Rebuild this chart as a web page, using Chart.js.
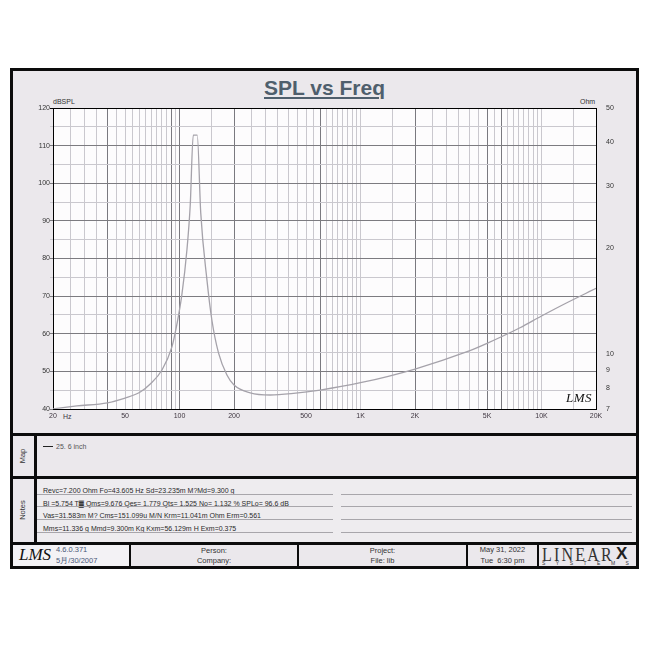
<!DOCTYPE html>
<html>
<head>
<meta charset="utf-8">
<script src="https://cdn.jsdelivr.net/npm/chart.js@4.4.0/dist/chart.umd.min.js"></script>
<style>
  html, body { margin: 0; padding: 0; background: #fff; }
  body { width: 653px; height: 648px; position: relative; overflow: hidden;
         font-family: "Liberation Sans", Arial, sans-serif; }
  .abs { position: absolute; white-space: nowrap; }
  .bar { position: absolute; background: #0c0c0c; }
  #frame { left: 10px; top: 68px; width: 629px; height: 501px; box-sizing: border-box;
           border: 3px solid #0c0c0c; background: #ebe8ec; }
  #title { left: 13px; width: 623px; top: 76px; text-align: center; font-size: 21px;
           font-weight: bold; color: #4f5f6d; text-decoration: underline; text-underline-offset: 2px; }
  .small { font-size: 7px; color: #333; line-height: 8px; }
  .note { font-size: 7px; color: #2a2a2a; line-height: 8px; }
  .rule { position: absolute; height: 0; border-bottom: 1px solid #a8a6ab; }
  .side { font-size: 7.5px; color: #333; width: 40px; text-align: center; line-height: 10px;
          transform: rotate(-90deg); }
  .foot { font-size: 7.5px; color: #333; line-height: 9px; text-align: center; }
  .ver { font-size: 7.5px; color: #4a5878; line-height: 9px; }
  .lms { font-family: "Liberation Serif", serif; font-style: italic; color: #111; }
</style>
</head>
<body>
<div id="frame" class="abs"></div>
<div id="title" class="abs">SPL vs Freq</div>

<div class="abs small" style="left:53px; top:98px;">dBSPL</div>
<div class="abs small" style="left:580px; top:98px;">Ohm</div>
<div class="abs small" style="left:63px; top:413px; color:#3f3640;">Hz</div>

<div class="abs" style="left:13px; top:71px; width:623px; height:362px;">
  <canvas id="chartSpl"></canvas>
</div>
<div class="abs lms" style="left:566px; top:390px; font-size:13px; letter-spacing:0.5px;">LMS</div>

<!-- section dividers -->
<div class="bar" style="left:10px; top:433px; width:629px; height:3px;"></div>
<div class="bar" style="left:10px; top:476px; width:629px; height:3px;"></div>
<div class="bar" style="left:10px; top:542px; width:629px; height:3px;"></div>
<div class="bar" style="left:34px; top:436px; width:3px; height:106px;"></div>

<!-- Map -->
<div class="abs side" style="left:3px; top:451px;">Map</div>
<div class="abs" style="left:43px; top:446px; width:10px; height:1px; background:#222;"></div>
<div class="abs small" style="left:56px; top:443px; color:#555;">25. 6 inch</div>

<!-- Notes -->
<div class="abs" style="left:37px; top:479px; width:599px; height:63px; background:#eeecef;"></div>
<div class="abs side" style="left:3px; top:505px;">Notes</div>
<div id="notes"></div>

<!-- footer -->
<div class="abs" style="left:13px; top:545px; width:116px; height:21px; background:#f3f2f5;"></div>
<div class="bar" style="left:129px; top:545px; width:2px; height:21px;"></div>
<div class="bar" style="left:297px; top:545px; width:2px; height:21px;"></div>
<div class="bar" style="left:466px; top:545px; width:2px; height:21px;"></div>
<div class="bar" style="left:537px; top:545px; width:2px; height:21px;"></div>

<div class="abs lms" style="left:19px; top:545px; font-size:17px; line-height:19px;">LMS</div>
<div class="abs ver" style="left:56px; top:545px;">4.6.0.371</div>
<div class="abs ver" style="left:56px; top:556px;">5月/30/2007</div>

<div class="abs foot" style="left:131px; width:166px; top:546px;">Person:</div>
<div class="abs foot" style="left:131px; width:166px; top:556px;">Company:</div>
<div class="abs foot" style="left:299px; width:167px; top:546px;">Project:</div>
<div class="abs foot" style="left:299px; width:167px; top:556px;">File: lib</div>
<div class="abs foot" style="left:468px; width:69px; top:545px;">May 31, 2022</div>
<div class="abs foot" style="left:468px; width:69px; top:556px;">Tue&nbsp; 6:30 pm</div>

<div class="abs" style="left:542px; top:545px; font-family:'Liberation Serif', serif; font-size:16px; letter-spacing:2.2px; color:#333; line-height:16px; transform:scaleY(1.2); transform-origin:top left;">LINEAR</div>
<div class="abs" style="left:616px; top:545px; font-size:17px; font-weight:bold; color:#222; line-height:17px;">X</div>
<div class="abs" style="left:542px; top:561px; font-size:5px; letter-spacing:10.5px; color:#333; line-height:5px;">SYSTEMS</div>

<script>
// impedance curve (right axis, Ohm)
var freqHz = [20, 27.1, 40, 50, 60.7, 68.9, 80, 90.8, 96.8, 103.1, 109.9, 114.6, 119.1, 125.3,
  131, 141.7, 151, 164.2, 182.8, 200, 245.8, 317, 426, 598, 1000, 2000, 3848, 5000, 7604, 10000, 13720, 20000];
var impedanceOhm = [7.01, 7.14, 7.29, 7.52, 7.82, 8.24, 9.03, 10.5, 12.2, 14.8, 19.8, 26.5, 41.9, 41.9,
  25.2, 16.3, 12.5, 10.1, 8.74, 8.19, 7.78, 7.67, 7.75, 7.92, 8.31, 9.09, 10.16, 10.75, 11.9, 12.85, 13.99, 15.39];

var xTickValues = [20, 50, 100, 200, 500, 1000, 2000, 5000, 10000, 20000];
var xTickLabels = ["20", "50", "100", "200", "500", "1K", "2K", "5K", "10K", "20K"];
var ohmTicks = [7, 8, 9, 10, 20, 30, 40, 50];
var darkFreqs = [40, 90, 100, 200, 600, 2000, 5000, 6000];

var notesLines = [
  "Revc=7.200 Ohm  Fo=43.605 Hz  Sd=23.235m M?Md=9.300 g",
  "Bl =5.754 T\u2593  Qms=9.676  Qes= 1.779  Qts= 1.525  No= 1.132 %  SPLo= 96.6 dB",
  "Vas=31.583m M? Cms=151.099u M/N  Krm=11.041m Ohm  Erm=0.561",
  "Mms=11.336 g  Mmd=9.300m Kg  Kxm=56.129m H  Exm=0.375",
];

// grid frequencies: steps of 5 up to 100 in each span, then 150, 200
var gridFreqs = [];
[20, 200, 2000].forEach((b) => {
  for (let k = 0; k <= 16; k++) gridFreqs.push(b * (1 + k * 0.25));
  gridFreqs.push(b * 7.5);
});
gridFreqs.push(20000);

var notesHtml = "";
notesLines.forEach((txt, i) => {
  let top = 487 + i * 12.7;
  notesHtml += '<div class="abs note" style="left:43px; top:' + top + 'px;">' + txt + "</div>";
  notesHtml += '<div class="rule" style="left:37px; width:296px; top:' + (top + 6.5) + 'px;"></div>';
  notesHtml += '<div class="rule" style="left:341px; width:291px; top:' + (top + 6.5) + 'px;"></div>';
});
document.getElementById("notes").innerHTML = notesHtml;

const plotBg = {
  id: "plotBg",
  beforeDraw(chart) {
    const { ctx, chartArea: a } = chart;
    ctx.save();
    ctx.fillStyle = "#fdfcfd";
    ctx.fillRect(a.left, a.top, a.right - a.left, a.bottom - a.top);
    ctx.restore();
  },
};

const tickFont = { family: "Liberation Sans", size: 7 };

new Chart(document.getElementById("chartSpl").getContext("2d"), {
  type: "line",
  data: {
    datasets: [
      {
        label: "25. 6 inch",
        data: freqHz.map((f, i) => ({ x: f, y: impedanceOhm[i] })),
        yAxisID: "y2",
        borderColor: "#a5a2aa",
        borderWidth: 1.3,
        pointRadius: 0,
        cubicInterpolationMode: "monotone",
        fill: false,
      },
    ],
  },
  options: {
    responsive: true,
    maintainAspectRatio: false,
    animation: false,
    layout: { padding: { top: 37, left: 0, right: 0, bottom: 0 } },
    plugins: { legend: { display: false }, tooltip: { enabled: false } },
    scales: {
      x: {
        type: "logarithmic",
        min: 20,
        max: 20000,
        afterBuildTicks: (s) => { s.ticks = gridFreqs.map((v) => ({ value: v })); },
        afterFit: (s) => { s.height = 24; },
        ticks: {
          autoSkip: false,
          maxRotation: 0,
          minRotation: 0,
          padding: 3,
          font: tickFont,
          color: "#3f3640",
          callback: (v) => {
            let i = xTickValues.indexOf(Math.round(v));
            return i >= 0 ? xTickLabels[i] : "";
          },
        },
        grid: {
          drawTicks: false,
          color: (c) => (c.tick && darkFreqs.includes(Math.round(c.tick.value)) ? "#7a797f" : "#cac8ce"),
        },
        border: { color: "#000", width: 1 },
      },
      y: {
        position: "left",
        min: 40,
        max: 120,
        afterFit: (s) => { s.width = 40; },
        ticks: {
          stepSize: 5,
          padding: 0,
          font: tickFont,
          color: "#333",
          callback: (v) => (v % 10 === 0 ? v : ""),
        },
        grid: {
          tickLength: 3,
          color: (c) => {
            let v = c.tick ? c.tick.value : 0;
            if (v === 120) return "#000";
            return v % 10 === 0 ? "#7c7b80" : "#cac8ce";
          },
        },
        border: { color: "#000", width: 1 },
      },
      y2: {
        type: "logarithmic",
        position: "right",
        min: 7,
        max: 50,
        afterBuildTicks: (s) => { s.ticks = ohmTicks.map((v) => ({ value: v })); },
        afterFit: (s) => { s.width = 40; },
        ticks: {
          autoSkip: false,
          padding: 2,
          font: tickFont,
          color: "#333",
          callback: (v) => String(v),
        },
        grid: { display: false },
        border: { color: "#000", width: 1 },
      },
    },
  },
  plugins: [plotBg],
});
</script>
</body>
</html>
